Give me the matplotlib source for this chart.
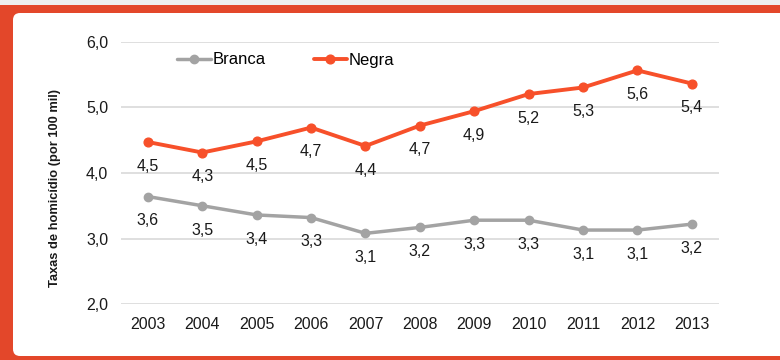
import matplotlib
matplotlib.use("Agg")
import matplotlib.pyplot as plt
from matplotlib.patches import Rectangle, FancyBboxPatch

plt.rcParams["font.family"] = ["Liberation Sans", "DejaVu Sans"]

years = [2003, 2004, 2005, 2006, 2007, 2008, 2009, 2010, 2011, 2012, 2013]
branca = [3.64, 3.50, 3.36, 3.32, 3.08, 3.17, 3.28, 3.28, 3.13, 3.13, 3.22]
negra = [4.47, 4.31, 4.48, 4.69, 4.41, 4.72, 4.94, 5.20, 5.30, 5.56, 5.36]
y_ticks = [2.0, 3.0, 4.0, 5.0, 6.0]

ORANGE = "#E3472A"
NEGRA_C = "#F7502A"
BRANCA_C = "#A3A3A3"

W, H = 780, 360
fig = plt.figure(figsize=(W / 100, H / 100), dpi=100)
fig.patch.set_facecolor("#EEEEEE")


def px(x0, y0, w, h):
    # pixel box measured from the top-left, converted to inches from bottom-left
    return x0 / 100, (H - y0 - h) / 100, w / 100, h / 100


# orange frame and the white rounded panel
x, y, w, h = px(0, 5, W, H - 5)
fig.patches.append(Rectangle((x, y), w, h, transform=fig.dpi_scale_trans,
                             facecolor=ORANGE, edgecolor="none", zorder=0))
x, y, w, h = px(13, 13, 820, 343)
fig.patches.append(FancyBboxPatch((x, y), w, h, boxstyle="round,pad=0,rounding_size=0.07",
                                  transform=fig.dpi_scale_trans,
                                  facecolor="white", edgecolor="none", zorder=1))

ax = fig.add_axes([120.7 / W, 1 - 304.3 / H, (719 - 120.7) / W, (304.3 - 41.5) / H])
ax.set_facecolor("none")
ax.set_zorder(2)

ax.plot(years, branca, "-o", color=BRANCA_C, lw=2.5, ms=6, label="Branca",
        solid_capstyle="round", zorder=3)
ax.plot(years, negra, "-o", color=NEGRA_C, lw=2.8, ms=6.3, label="Negra",
        solid_capstyle="round", zorder=3)

for xs, vals in ((years, branca), (years, negra)):
    for xv, v in zip(xs, vals):
        ax.annotate(f"{v:.1f}".replace(".", ","), (xv, v), xytext=(0, -17.5),
                    textcoords="offset points", ha="center", va="center",
                    fontsize=11.5, color="#1a1a1a")

ax.set_xlim(2002.5, 2013.5)
ax.set_ylim(2.0, 6.0)
ax.set_xticks(years)
ax.set_xticklabels([str(y) for y in years])
ax.set_yticks(y_ticks)
ax.set_yticklabels([f"{t:.1f}".replace(".", ",") for t in y_ticks])
ax.tick_params(axis="both", length=0, labelsize=11.5, colors="#1a1a1a")
ax.tick_params(axis="y", pad=9)
ax.tick_params(axis="x", pad=9)
ax.grid(axis="y", color="#D9D9D9", lw=1.2)
ax.set_axisbelow(True)
for s in ax.spines.values():
    s.set_visible(False)

fig.text(55 / W, 1 - 188 / H, "Taxas de homicídio (por 100 mil)", rotation=90,
         ha="center", va="center", fontsize=9.3, fontweight="bold", color="#1a1a1a")

ax.legend(loc="center", bbox_to_anchor=(0.276, 1 - 18.5 / 262.8),
          ncol=2, frameon=False, fontsize=12, handlelength=2.0,
          handletextpad=0.1, columnspacing=2.9, borderaxespad=0)

fig.savefig("out.png", dpi=100, facecolor=fig.get_facecolor())
